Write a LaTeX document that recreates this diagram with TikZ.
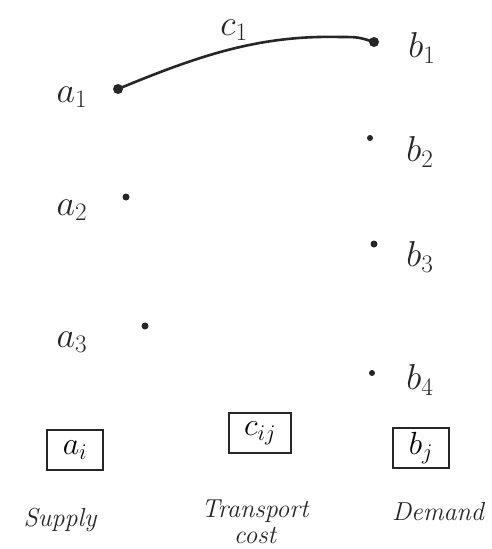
\RequirePackage{fix-cm}
\documentclass[tikz,border=0pt]{standalone}
\usepackage{amsmath}
\begin{document}
\begin{tikzpicture}[x=1pt,y=-1pt,
  dotA/.style={circle,fill=black!85,inner sep=0pt,minimum size=#1},
  lbl/.style={font=\fontsize{36}{38}\selectfont,text=black!85},
  boxed/.style={draw=black!85,line width=2pt,minimum width=56pt,minimum height=40pt,inner sep=0pt,font=\fontsize{32}{34}\selectfont},
  word/.style={font=\fontsize{26}{28}\selectfont\itshape,text=black!85}]
\useasboundingbox[fill=white] (0,0) rectangle (491,549);
% points
\node[dotA=10pt] (a1) at (118,89) {};
\node[dotA=7pt] (a2) at (126,197) {};
\node[dotA=7pt] (a3) at (145,326) {};
\node[dotA=10pt] (b1) at (374,42) {};
\node[dotA=6pt] (b2) at (370,138) {};
\node[dotA=7pt] (b3) at (374,244) {};
\node[dotA=6pt] (b4) at (372,373) {};
% labels
\node[lbl] (la1) at (72,97) {$a_1$};
\node[lbl] (la2) at (72,210) {$a_2$};
\node[lbl] (la3) at (72,342) {$a_3$};
\node[lbl] (lb1) at (422,48) {$b_1$};
\node[lbl] (lb2) at (420,152) {$b_2$};
\node[lbl] (lb3) at (420,257) {$b_3$};
\node[lbl] (lb4) at (420,380) {$b_4$};
\node[lbl] (lc1) at (234,30) {$c_1$};
% connector
\draw[line width=2.6pt,black!85] (a1.center) .. controls (200,55) and (260,35) .. (340,37) .. controls (358,37) .. (b1.center);
% boxes
\node[boxed] (bai) at (75,450) {$a_i$};
\node[boxed,minimum width=62pt] (bcij) at (260,433) {$c_{ij}$};
\node[boxed] (bbj) at (421,448) {$b_j$};
% words
\node[word] (wsup) at (60,520) {Supply};
\node[word,align=center] (wtr) at (255,522) {Transport\\[-2pt]cost};
\node[word] (wdem) at (438,512) {Demand};
\end{tikzpicture}
\end{document}
